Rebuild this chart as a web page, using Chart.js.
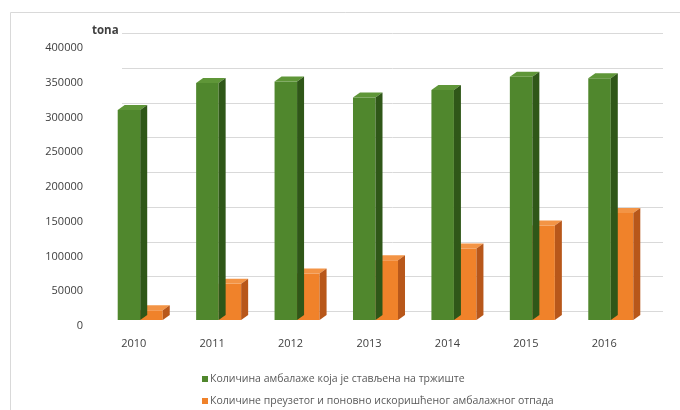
<!DOCTYPE html>
<html>
<head>
<meta charset="utf-8">
<script src="https://cdn.jsdelivr.net/npm/chart.js@4/dist/chart.umd.min.js"></script>
<style>
  body { margin: 0; background: #fff; }
  #wrap { width: 680px; height: 410px; }
</style>
</head>
<body>
<div id="wrap"><canvas id="chart" width="680" height="410"></canvas></div>
<script>
// data (tons)
var years = ['2010', '2011', '2012', '2013', '2014', '2015', '2016'];
var placedOnMarket = [302000, 341000, 343000, 320000, 331000, 350000, 348000];
var recoveredWaste = [14000, 52000, 67000, 86000, 103000, 136000, 154000];
var seriesNames = [
    'Количина амбалаже која је стављена на тржиште',
    'Количине преузетог и поновно искоришћеног амбалажног отпада'
];
var unitLabel = 'tona';
var yMax = 400000;
var yStep = 50000;

var FONT = '"Open Sans", "DejaVu Sans", sans-serif';
var GREY = '#595959';

// depth of the fake 3d columns
var dx = 7, dy = -5;

// frame, back wall gridlines, 3d faces, title and legend
var decor = {
    id: 'decor',
    beforeDraw: function(chart){
        var ctx = chart.ctx;
        ctx.save();
        ctx.strokeStyle = '#d9d9d9';
        ctx.lineWidth = 1;
        ctx.beginPath();
        ctx.moveTo(10.5, 410);
        ctx.lineTo(10.5, 12.5);
        ctx.lineTo(680, 12.5);
        ctx.stroke();
        ctx.restore();
    },
    beforeDatasetsDraw: function(chart){
        var ctx = chart.ctx, y = chart.scales.y, area = chart.chartArea;
        ctx.save();
        ctx.strokeStyle = '#d9d9d9';
        ctx.lineWidth = 1;
        for(var v=0; v<=yMax; v+=yStep){
            var py = Math.round(y.getPixelForValue(v) - 9) + 0.5;
            ctx.beginPath();
            ctx.moveTo(area.left + 21, py);
            ctx.lineTo(area.right + 13, py);
            ctx.stroke();
        }
        ctx.restore();
    },
    afterDatasetDraw: function(chart, args){
        var ctx = chart.ctx;
        var ds = chart.data.datasets[args.index];
        ctx.save();
        args.meta.data.forEach(function(bar){
            var p = bar.getProps(['x','y','width','base'], true);
            var l = p.x - p.width/2, r = p.x + p.width/2;
            // top face
            ctx.fillStyle = ds.topColor;
            ctx.beginPath();
            ctx.moveTo(l, p.y);
            ctx.lineTo(l+dx, p.y+dy);
            ctx.lineTo(r+dx, p.y+dy);
            ctx.lineTo(r, p.y);
            ctx.closePath();
            ctx.fill();
            // side face
            ctx.fillStyle = ds.sideColor;
            ctx.beginPath();
            ctx.moveTo(r, p.y);
            ctx.lineTo(r+dx, p.y+dy);
            ctx.lineTo(r+dx, p.base+dy);
            ctx.lineTo(r, p.base);
            ctx.closePath();
            ctx.fill();
        });
        ctx.restore();
    },
    afterDraw: function(chart){
        var ctx = chart.ctx;
        ctx.save();
        ctx.fillStyle = '#404040';
        ctx.font = 'bold 11.5px ' + FONT;
        ctx.textBaseline = 'middle';
        ctx.fillText(unitLabel, 92, 31);

        // legend, two left aligned rows
        ctx.font = '10.5px ' + FONT;
        var rowY = [379, 401];
        chart.data.datasets.forEach(function(ds, i){
            ctx.fillStyle = ds.backgroundColor;
            ctx.fillRect(202, rowY[i]-3, 6, 6);
            ctx.fillStyle = GREY;
            ctx.fillText(ds.label, 210, rowY[i]);
        });
        ctx.restore();
    }
};

var chart = new Chart(document.getElementById('chart'), {
    type: 'bar',
    data: {
        labels: years,
        datasets: [
            {
                label: seriesNames[0],
                data: placedOnMarket,
                backgroundColor: '#50872d',
                topColor: '#5f9638',
                sideColor: '#2f5718',
                borderWidth: 0
            },
            {
                label: seriesNames[1],
                data: recoveredWaste,
                backgroundColor: '#f0822a',
                topColor: '#f39445',
                sideColor: '#b8571a',
                borderWidth: 0
            }
        ]
    },
    options: {
        responsive: false,
        animation: false,
        layout: { padding: { left: 0, right: 30, top: 42, bottom: 0 } },
        categoryPercentage: 0.574,
        barPercentage: 1,
        plugins: {
            legend: { display: false },
            tooltip: { enabled: false }
        },
        scales: {
            x: {
                grid: { display: false, drawTicks: false },
                border: { display: false },
                ticks: {
                    color: '#404040',
                    font: { family: FONT, size: 11 },
                    padding: 17,
                    labelOffset: -6.5,
                    maxRotation: 0
                },
                afterFit: function(s){ s.height = 90; }
            },
            y: {
                min: 0,
                max: yMax,
                grid: { display: false, drawTicks: false },
                border: { display: false },
                ticks: {
                    stepSize: yStep,
                    color: '#404040',
                    font: { family: FONT, size: 11 },
                    padding: 18,
                    labelOffset: 6,
                    callback: function(v){ return String(v); }
                },
                afterFit: function(s){ s.width = 101; }
            }
        }
    },
    plugins: [decor]
});
</script>
</body>
</html>
